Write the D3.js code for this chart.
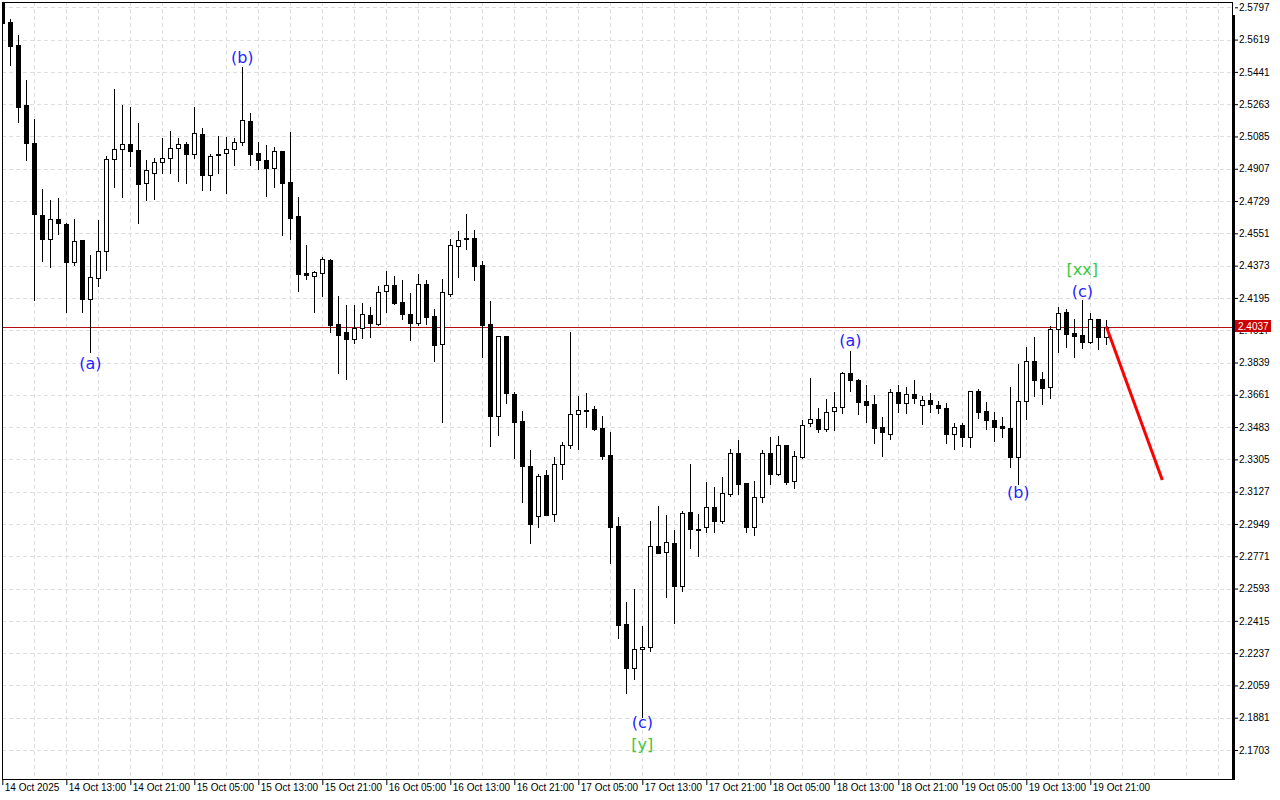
<!DOCTYPE html>
<html><head><meta charset="utf-8">
<script src="https://cdn.jsdelivr.net/npm/d3@7"></script>
<style>html,body{margin:0;padding:0;background:#fff;}svg{display:block;}</style>
</head><body>
<svg id="chart" width="1280" height="800"></svg>
<script>
// ---- DATA (hourly bars, first bar 14 Oct 2025 05:00) ----
const open = [2.5840,2.5714,2.5589,2.5258,2.5047,2.4652,2.4518,2.4628,2.4603,2.4391,
2.4514,2.4187,2.4303,2.4452,2.4962,2.5014,2.5042,2.5010,2.4827,2.4885,
2.4943,2.4965,2.5020,2.5042,2.4987,2.5097,2.4871,2.4987,2.4992,2.5014,
2.5056,2.5170,2.4994,2.4954,2.4910,2.5003,2.4834,2.4645,2.4331,2.4318,
2.4334,2.4404,2.4050,2.4007,2.3967,2.4028,2.4099,2.4053,2.4232,2.4265,
2.4171,2.4105,2.4055,2.4270,2.4094,2.3939,2.4219,2.4479,2.4524,2.4524,
2.4375,2.4050,2.3546,2.3984,2.3665,2.3517,2.3269,2.2991,2.3217,2.3002,
2.3278,2.3383,2.3554,2.3579,2.3581,2.3476,2.3328,2.2936,2.2398,2.2154,
2.2258,2.2269,2.2826,2.2793,2.2843,2.2609,2.3013,2.2923,2.2931,2.3041,
2.2967,2.3116,2.3339,2.3173,2.2934,2.3096,2.3339,2.3223,2.3383,2.3186,
2.3320,2.3504,2.3529,2.3474,2.3570,2.3595,2.3781,2.3742,2.3626,2.3610,
2.3484,2.3447,2.3677,2.3614,2.3664,2.3603,2.3631,2.3603,2.3587,2.3447,
2.3493,2.3427,2.3680,2.3570,2.3522,2.3487,2.3476,2.3320,2.3629,2.3846,
2.3748,2.3706,2.4022,2.4117,2.4000,2.3989,2.3954,2.4077,2.3978];
const high = [2.5850,2.5731,2.5644,2.5396,2.5181,2.4795,2.4735,2.4746,2.4608,2.4628,
2.4516,2.4432,2.4625,2.4977,2.5347,2.5258,2.5249,2.5158,2.4955,2.4966,
2.5075,2.5115,2.5075,2.5056,2.5246,2.5130,2.4987,2.5088,2.5084,2.5079,
2.5466,2.5213,2.5054,2.5038,2.5025,2.5005,2.5110,2.4751,2.4487,2.4342,
2.4421,2.4410,2.4206,2.4156,2.4158,2.4167,2.4145,2.4261,2.4342,2.4316,
2.4292,2.4222,2.4325,2.4292,2.4132,2.4298,2.4520,2.4562,2.4658,2.4568,
2.4399,2.4178,2.3986,2.3986,2.3675,2.3572,2.3357,2.3225,2.3247,2.3320,
2.3401,2.4007,2.3654,2.3671,2.3599,2.3544,2.3454,2.2986,2.2519,2.2589,
2.2387,2.2964,2.3048,2.2999,2.2914,2.3019,2.3280,2.3004,2.3179,2.3153,
2.3208,2.3364,2.3412,2.3175,2.3186,2.3357,2.3430,2.3434,2.3385,2.3351,
2.3522,2.3752,2.3587,2.3638,2.3677,2.3788,2.3905,2.3746,2.3715,2.3660,
2.3537,2.3691,2.3715,2.3704,2.3743,2.3654,2.3669,2.3627,2.3618,2.3504,
2.3507,2.3684,2.3691,2.3623,2.3568,2.3540,2.3702,2.3831,2.3923,2.3978,
2.3788,2.4042,2.4143,2.4132,2.4077,2.4184,2.4110,2.4080,2.4073];
const low = [2.5712,2.5479,2.5166,2.4955,2.4184,2.4400,2.4367,2.4546,2.4117,2.4377,
2.4117,2.3897,2.4261,2.4349,2.4808,2.4753,2.4922,2.4606,2.4735,2.4740,
2.4885,2.4885,2.4841,2.4830,2.4965,2.4788,2.4792,2.4885,2.4775,2.4928,
2.5038,2.4928,2.4906,2.4757,2.4808,2.4542,2.4520,2.4235,2.4299,2.4119,
2.4206,2.4009,2.3783,2.3750,2.3947,2.3976,2.3981,2.4044,2.4117,2.4160,
2.4081,2.3965,2.4044,2.4050,2.3849,2.3511,2.4206,2.4312,2.4466,2.4296,
2.3871,2.3381,2.3441,2.3618,2.3314,2.3072,2.2843,2.2934,2.2998,2.2967,
2.3195,2.3366,2.3364,2.3485,2.3465,2.3309,2.2736,2.2322,2.2019,2.2096,
2.1887,2.2251,2.2787,2.2548,2.2405,2.2581,2.2818,2.2774,2.2903,2.2906,
2.2956,2.3105,2.3116,2.2906,2.2890,2.3072,2.3171,2.3221,2.3169,2.3149,
2.3314,2.3491,2.3458,2.3463,2.3467,2.3559,2.3684,2.3554,2.3513,2.3397,
2.3325,2.3419,2.3568,2.3559,2.3618,2.3500,2.3568,2.3562,2.3394,2.3361,
2.3379,2.3372,2.3535,2.3471,2.3408,2.3430,2.3265,2.3169,2.3529,2.3654,
2.3610,2.3645,2.3899,2.3926,2.3871,2.3917,2.3945,2.3915,2.3941];
const close = [2.5712,2.5585,2.5249,2.5047,2.4656,2.4518,2.4628,2.4606,2.4391,2.4509,
2.4187,2.4309,2.4452,2.4959,2.5014,2.5042,2.5007,2.4821,2.4899,2.4943,
2.4965,2.5020,2.5042,2.4990,2.5102,2.4871,2.4977,2.4981,2.5014,2.5056,
2.5174,2.4990,2.4955,2.4913,2.5003,2.4830,2.4637,2.4329,2.4320,2.4338,
2.4408,2.4044,2.3992,2.3967,2.4028,2.4105,2.4058,2.4226,2.4265,2.4169,
2.4105,2.4055,2.4270,2.4092,2.3937,2.4226,2.4485,2.4513,2.4518,2.4373,
2.4047,2.3546,2.3984,2.3669,2.3509,2.3267,2.2947,2.3212,2.3000,2.3278,
2.3383,2.3554,2.3576,2.3573,2.3474,2.3325,2.2934,2.2394,2.2157,2.2258,
2.2269,2.2826,2.2791,2.2848,2.2609,2.3008,2.2920,2.2920,2.3041,2.2967,
2.3118,2.3339,2.3171,2.2934,2.3096,2.3339,2.3223,2.3383,2.3182,2.3324,
2.3496,2.3529,2.3474,2.3565,2.3595,2.3780,2.3740,2.3619,2.3602,2.3480,
2.3454,2.3677,2.3614,2.3664,2.3642,2.3631,2.3609,2.3590,2.3447,2.3485,
2.3427,2.3680,2.3565,2.3522,2.3485,2.3476,2.3320,2.3627,2.3846,2.3745,
2.3700,2.4024,2.4114,2.3998,2.3987,2.3950,2.4077,2.3978,2.4037];

const priceTicks = ["2.5797","2.5619","2.5441","2.5263","2.5085","2.4907","2.4729","2.4551",
"2.4373","2.4195","2.4017","2.3839","2.3661","2.3483","2.3305","2.3127","2.2949","2.2771",
"2.2593","2.2415","2.2237","2.2059","2.1881","2.1703"];
const timeLabels = ["14 Oct 2025","14 Oct 13:00","14 Oct 21:00","15 Oct 05:00","15 Oct 13:00",
"15 Oct 21:00","16 Oct 05:00","16 Oct 13:00","16 Oct 21:00","17 Oct 05:00","17 Oct 13:00",
"17 Oct 21:00","18 Oct 05:00","18 Oct 13:00","18 Oct 21:00","19 Oct 05:00","19 Oct 13:00","19 Oct 21:00"];
const timeLabelBars = [0,8,16,24,32,40,48,56,64,72,80,88,96,104,112,120,128,136];

const waveTexts  = ["(a)","(b)","(c)","[y]","(a)","(b)","(c)","[xx]"];
const waveBars   = [11,30,80,80,106,127,135,135];
const wavePrices = [2.3831,2.5518,2.1852,2.1731,2.3958,2.3125,2.4233,2.4349];
const waveDegree = ["minor","minor","minor","major","minor","minor","minor","major"];

const lastPrice = 2.4037;
const forecastBars = [138,145];
const forecastPrices = [2.4037,2.3191];

// ---- LAYOUT ----
const L = 2, T = 2, R = 1232, B = 779;
const svg = d3.select("#chart");
const x = d3.scaleLinear().domain([0,138]).range([2.3, 1106.3]);
const y = d3.scaleLinear().domain([2.5797, 2.1703]).range([7.3, 750]);
const px = i => Math.round(x(i)) + 0.5;
const py = p => Math.round(y(p)) + 0.5;
const degreeColor = {minor:"#1f1fff", major:"#3cc83c"};

svg.append("rect").attr("width",1280).attr("height",800).attr("fill","#fff");
svg.append("defs").append("clipPath").attr("id","plot")
  .append("rect").attr("x",L).attr("y",T).attr("width",R-L).attr("height",B-T);

const grid = svg.append("g").attr("stroke","#dedede").attr("stroke-dasharray","4,3").attr("stroke-width",1);
priceTicks.forEach(t => {
  grid.append("line").attr("x1",L).attr("x2",R).attr("y1",py(+t)).attr("y2",py(+t));
});
for (let b = 4; x(b) < R - 2; b += 4) {
  grid.append("line").attr("x1",px(b)).attr("x2",px(b)).attr("y1",T).attr("y2",B);
}

const plot = svg.append("g").attr("clip-path","url(#plot)");

// current price line
plot.append("line").attr("x1",L).attr("x2",R).attr("y1",py(lastPrice)).attr("y2",py(lastPrice))
  .attr("stroke","#b01010").attr("stroke-width",1);

const bars = d3.range(open.length);
const cg = plot.append("g");
cg.selectAll("line.wick").data(bars).join("line").attr("class","wick")
  .attr("x1",i=>px(i)).attr("x2",i=>px(i))
  .attr("y1",i=>Math.round(y(high[i]))).attr("y2",i=>Math.round(y(low[i]))+1)
  .attr("stroke","#000").attr("stroke-width",1);
cg.selectAll("rect.body").data(bars).join("rect").attr("class","body")
  .attr("x",i=>px(i)-2).attr("width",4)
  .attr("y",i=>py(Math.max(open[i],close[i])))
  .attr("height",i=>Math.max(1, py(Math.min(open[i],close[i])) - py(Math.max(open[i],close[i]))))
  .attr("fill",i=>close[i]>=open[i]?"#fff":"#000")
  .attr("stroke","#000").attr("stroke-width",1);

// forecast line
svg.append("path").datum(forecastBars.map((b,k)=>[b,forecastPrices[k]]))
  .attr("d", d3.line().x(d=>x(d[0])).y(d=>y(d[1])))
  .attr("fill","none").attr("stroke","#ff0000").attr("stroke-width",3);

// wave labels
svg.append("g").selectAll("text").data(waveTexts).join("text")
  .attr("x",(d,k)=>x(waveBars[k])).attr("y",(d,k)=>y(wavePrices[k])+5.5)
  .attr("text-anchor","middle").attr("font-family","DejaVu Sans")
  .attr("font-size",16).attr("fill",(d,k)=>degreeColor[waveDegree[k]]).text(d=>d);

// frame
svg.append("rect").attr("x",L+0.5).attr("y",T+0.5).attr("width",R-L).attr("height",B-T)
  .attr("fill","none").attr("stroke","#000").attr("stroke-width",1);
svg.append("rect").attr("x",R).attr("y",15).attr("width",3).attr("height",B-15+1).attr("fill","#000");

// price axis
const ya = svg.append("g").attr("transform",`translate(${R+3},0)`)
  .call(d3.axisRight(y).tickValues(priceTicks.map(Number)).tickFormat((d,i)=>priceTicks[i]).tickSize(3).tickPadding(1));
ya.select(".domain").remove();
ya.selectAll("text").attr("font-family","Liberation Sans, Arial").attr("font-size",10).attr("fill","#000");
ya.selectAll("line").attr("stroke","#000");

// last price tag
const tag = svg.append("g");
tag.append("rect").attr("x",R+3).attr("y",Math.round(y(lastPrice))-7).attr("width",36).attr("height",12).attr("fill","#cc0000");
tag.append("text").attr("x",R+6).attr("y",Math.round(y(lastPrice))+3).attr("font-family","Liberation Sans, Arial")
  .attr("font-size",10).attr("fill","#fff").text(lastPrice.toFixed(4));

// time axis
const xa = svg.append("g").attr("transform",`translate(0,${B})`)
  .call(d3.axisBottom(x).tickValues(timeLabelBars).tickFormat((d,i)=>timeLabels[i]).tickSize(6));
xa.select(".domain").remove();
xa.selectAll("line").attr("stroke","#000");
xa.selectAll("text").attr("text-anchor","start").attr("x",2).attr("y",5).attr("dy","0.71em")
  .attr("font-family","Liberation Sans, Arial").attr("font-size",10).attr("fill","#000");
</script>
</body></html>
